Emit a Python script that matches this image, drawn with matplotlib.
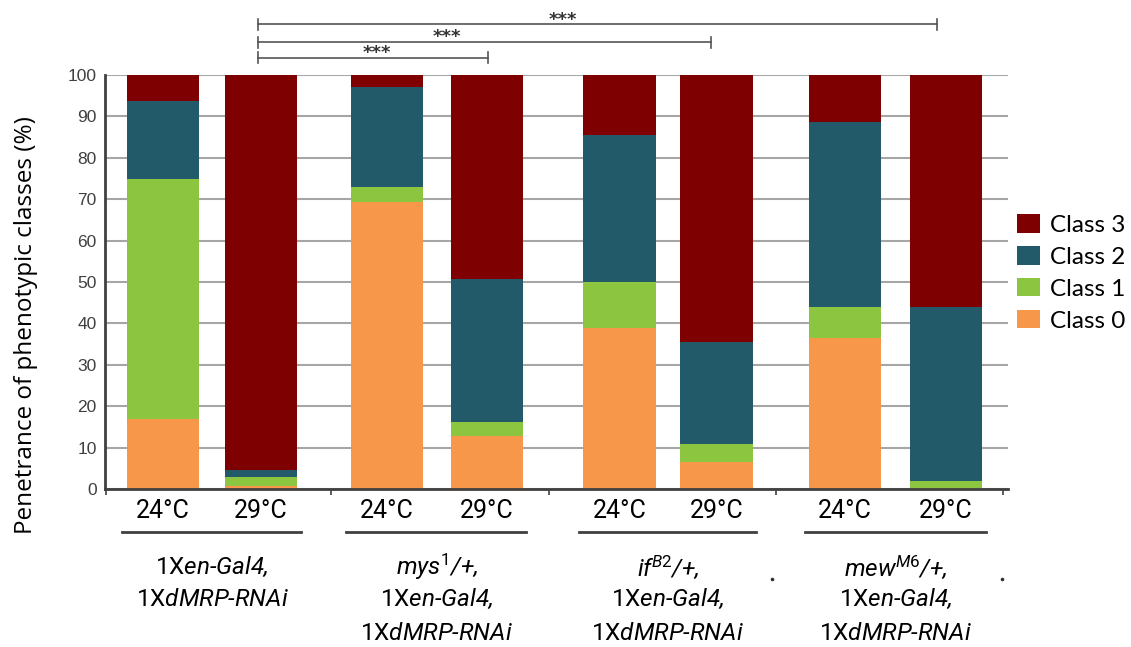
#!/usr/bin/env python3
"""Stacked bars: penetrance of phenotypic classes per genotype and temperature."""

import matplotlib
matplotlib.use("Agg")
import matplotlib.pyplot as plt
from matplotlib.patches import Patch
from matplotlib.transforms import blended_transform_factory

plt.rcParams["mathtext.fontset"] = "custom"
plt.rcParams["mathtext.rm"] = "Roboto"
plt.rcParams["mathtext.it"] = "Roboto:italic"

NARROW = ["Roboto", "DejaVu Sans"]

# one entry per bar, left to right
temperatures = ["24°C", "29°C", "24°C", "29°C", "24°C", "29°C", "24°C", "29°C"]
class0 = [16.8, 0.7, 69.4, 12.8, 39.0, 6.6, 36.4, 0.0]
class1 = [58.2, 2.2, 3.6, 3.5, 11.1, 4.3, 7.5, 2.0]
class2 = [18.7, 1.7, 24.2, 34.5, 35.3, 24.7, 44.7, 41.9]
class3 = [6.3, 95.4, 2.8, 49.2, 14.6, 64.4, 11.4, 56.1]

class_names = ["Class 0", "Class 1", "Class 2", "Class 3"]
class_colors = ["#f69749", "#8cc540", "#235a6a", "#7f0000"]

EN = r"$\mathrm{1X}$en-Gal4,"
RNAI = r"$\mathrm{1X}$dMRP-RNAi"
genotype_lines = [
    [EN, RNAI],
    [r"mys$^{\mathit{1}}$/+,", EN, RNAI],
    [r"if$^{\mathit{B2}}$/+,", EN, RNAI],
    [r"mew$^{\mathit{M6}}$/+,", EN, RNAI],
]

# significance brackets: (left end, right end, level, star x)
brackets = [(0.96, 3.28, 104.2, 2.16), (0.96, 5.54, 107.9, 2.87),
            (0.96, 7.82, 112.2, 4.04)]

x = [0.0, 0.99, 2.26, 3.27, 4.61, 5.59, 6.89, 7.91]
group_edges = [-0.576, 1.70, 3.90, 6.19, 8.48]
bar_w = 0.73

fig = plt.figure(figsize=(11.31, 6.47), dpi=100)
ax = fig.add_axes([105 / 1131, 1 - 489 / 647, 903 / 1131, 414 / 647])

bottom = [0.0] * len(x)
for vals, color, name in zip([class0, class1, class2, class3], class_colors, class_names):
    ax.bar(x, vals, width=bar_w, bottom=bottom, color=color, label=name,
           linewidth=0, zorder=3)
    bottom = [b + v for b, v in zip(bottom, vals)]

ax.set_xlim(-0.586, (1008 - 163) / 99)
ax.set_ylim(0, 100)
ax.set_yticks(range(0, 101, 10))
ax.yaxis.grid(True, color="#a6a6a6", linewidth=1.5, zorder=0)
ax.tick_params(axis="y", length=0, pad=6, labelsize=12.5, labelcolor="#404040")
for lab in ax.get_yticklabels():
    lab.set_family("Liberation Sans")

for side in ["top", "right"]:
    ax.spines[side].set_visible(False)
ax.spines["left"].set_color("#404040")
ax.spines["left"].set_linewidth(2)
ax.spines["bottom"].set_color("#404040")
ax.spines["bottom"].set_linewidth(2)
ax.spines["bottom"].set_zorder(4)

ax.set_xticks(group_edges)
ax.set_xticklabels([])
ax.tick_params(axis="x", which="major", direction="out", length=4, width=1.2,
               color="#404040")
ax.set_xticks(x, minor=True)
ax.set_xticklabels(temperatures, minor=True, fontsize=18, family=NARROW)
ax.tick_params(axis="x", which="minor", length=0, pad=7)

ax.set_ylabel("Penetrance of phenotypic classes (%)", fontsize=17.5,
              family="Open Sans", labelpad=10)
ax.yaxis.set_label_coords(-0.074, 0.395)

trans = blended_transform_factory(ax.transData, ax.transAxes)
line_y = [(489 - 567) / 414, (489 - 599) / 414, (489 - 633) / 414]
for g, lines in enumerate(genotype_lines):
    left, right = x[2 * g], x[2 * g + 1]
    ax.plot([left - 0.41, right + 0.40], [-0.104, -0.104], color="#404040",
            linewidth=2, transform=trans, clip_on=False)
    cx = (left + right) / 2
    for i, line in enumerate(lines):
        ax.text(cx, line_y[i], line, transform=trans, ha="center", va="center",
                fontsize=17.5, family=NARROW, style="italic")

# stray dots beneath the axis
ax.plot([(772 - 163) / 99, (1002 - 163) / 99], [(489 - 579) / 414] * 2, "o",
        color="#333333", markersize=1.6, transform=trans, clip_on=False)

for xa, xb, level, sx in brackets:
    ax.plot([xa, xb], [level, level], color="#555555", linewidth=1.2, clip_on=False)
    for xe in (xa, xb):
        ax.plot([xe, xe], [level - 1.3, level + 1.3], color="#555555",
                linewidth=1.2, clip_on=False)
    ax.text(sx, level + 1.2, "***", ha="center", va="center", fontsize=13,
            fontweight="bold", color="#333333", clip_on=False)

handles = [Patch(facecolor=c, edgecolor="none") for c in class_colors][::-1]
fig.legend(handles, class_names[::-1], loc="upper left",
           bbox_to_anchor=(1017 / 1131, 1 - 214 / 647), frameon=False,
           prop={"family": "Lato", "size": 17.5}, handlelength=0.95,
           handleheight=0.8, handletextpad=0.4, labelspacing=0.42,
           borderpad=0, borderaxespad=0)

fig.savefig("out.png", dpi=100)
